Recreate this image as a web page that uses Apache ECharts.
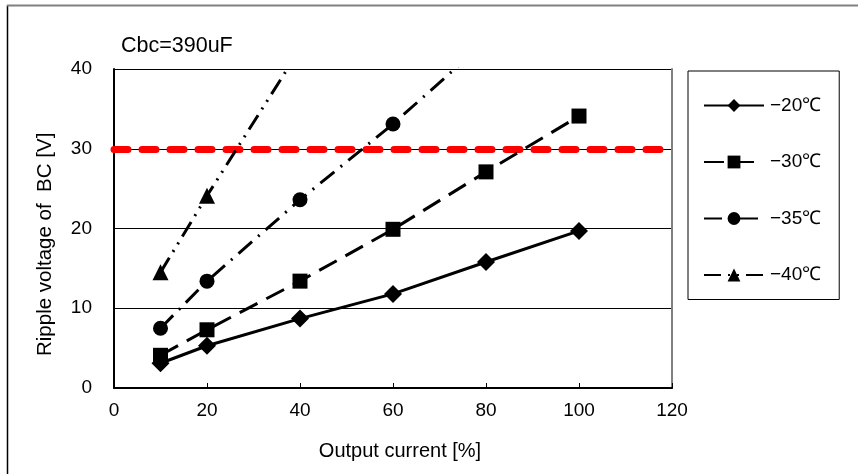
<!DOCTYPE html>
<html>
<head>
<meta charset="utf-8">
<script src="https://cdn.jsdelivr.net/npm/echarts@6/dist/echarts.min.js"></script>
<style>html,body{margin:0;padding:0;background:#fff}#c{width:858px;height:474px}</style>
</head>
<body>
<div id="c"></div>
<script>
const xValues = [10, 20, 40, 60, 80, 100];
const seriesNames = ['−20℃', '−30℃', '−35℃', '−40℃'];
const v20 = [3.1, 5.3, 8.7, 11.8, 15.8, 19.7];
const v30 = [4.1, 7.3, 13.4, 19.9, 27.1, 34.1];
const v35 = [7.5, 13.4, 23.6, 33.1, 43.5, null];
const v40 = [14.5, 24.1, 42.5, null, null, null];
const limitValue = 30;
const titleText = 'Cbc=390uF';
const xAxisTitle = 'Output current [%]';
const yAxisTitle = 'Ripple voltage of  BC [V]';

const FONT = '"Liberation Sans", Arial, sans-serif';
const pairs = arr => xValues.map((x, i) => [x, arr[i]]);

const styles = [
  { symbol: 'diamond', size: 18, dash: 'solid' },
  { symbol: 'rect', size: 15, dash: [20, 10] },
  { symbol: 'circle', size: 15, dash: [18, 8, 2, 8] },
  { symbol: 'triangle', size: 16, dash: [17, 7, 2, 7, 2, 7] }
];
const datas = [v20, v30, v35, v40];

const series = datas.map((d, i) => ({
  name: seriesNames[i],
  type: 'line',
  data: pairs(d),
  symbol: styles[i].symbol,
  symbolSize: styles[i].size,
  clip: true,
  connectNulls: false,
  z: 5,
  itemStyle: { color: '#000' },
  lineStyle: { color: '#000', width: 3, type: styles[i].dash },
  emphasis: { disabled: true }
}));

series.push({
  name: 'limit',
  type: 'line',
  data: [],
  z: 4,
  markLine: {
    silent: true,
    symbol: 'none',
    label: { show: false },
    lineStyle: { color: '#ff0000', width: 7, type: [14, 14], cap: 'round' },
    data: [{ yAxis: limitValue }]
  }
});

const chart = echarts.init(document.getElementById('c'), null, { renderer: 'canvas' });
chart.setOption({
  animation: false,
  backgroundColor: '#fff',
  grid: { left: 114, right: 186, top: 69, bottom: 86 },
  xAxis: {
    type: 'value', min: 0, max: 120, interval: 20,
    axisLine: { lineStyle: { color: '#000', width: 2 } },
    axisTick: { show: true, inside: true, length: 5, lineStyle: { color: '#000' } },
    axisLabel: { color: '#000', fontSize: 19, fontFamily: FONT, margin: 13 },
    splitLine: { show: false }
  },
  yAxis: [{
    type: 'value', min: 0, max: 40, interval: 10,
    axisLine: { show: true, lineStyle: { color: '#000', width: 2 } },
    axisTick: { show: false },
    axisLabel: { color: '#000', fontSize: 19, fontFamily: FONT, margin: 22 },
    splitLine: { show: true, lineStyle: { color: '#000', width: 1 } }
  }, {
    type: 'value', min: 0, max: 40, interval: 10, position: 'right',
    axisLine: { show: true, lineStyle: { color: '#808080', width: 2 } },
    axisTick: { show: false }, axisLabel: { show: false }, splitLine: { show: false }
  }],
  legend: {
    orient: 'vertical',
    left: 688, top: 71,
    width: 155,
    padding: [25, 18, 15, 15],
    itemWidth: 60, itemHeight: 16, itemGap: 37.5,
    borderColor: '#000', borderWidth: 1,
    data: seriesNames,
    textStyle: { color: '#000', fontSize: 19, fontFamily: FONT, padding: [0, 0, 0, 1] }
  },
  graphic: [
    { type: 'text', left: 121, top: 35, style: { text: titleText, fontSize: 21.5, fontFamily: FONT, fill: '#000' } },
    { type: 'text', x: 400, y: 451, style: { text: xAxisTitle, fontSize: 20, fontFamily: FONT, fill: '#000', align: 'center', verticalAlign: 'middle' } },
    { type: 'text', x: 35, y: 356, rotation: Math.PI / 2, style: { text: yAxisTitle, fontSize: 20.5, fontFamily: FONT, fill: '#000', verticalAlign: 'top' } },
    { type: 'line', shape: { x1: 7.5, y1: 5, x2: 7.5, y2: 474 }, style: { stroke: '#000', lineWidth: 1.5 } },
    { type: 'line', shape: { x1: 7, y1: 5.5, x2: 858, y2: 5.5 }, style: { stroke: '#808080', lineWidth: 2 } }
  ],
  series: series
});
</script>
</body>
</html>
